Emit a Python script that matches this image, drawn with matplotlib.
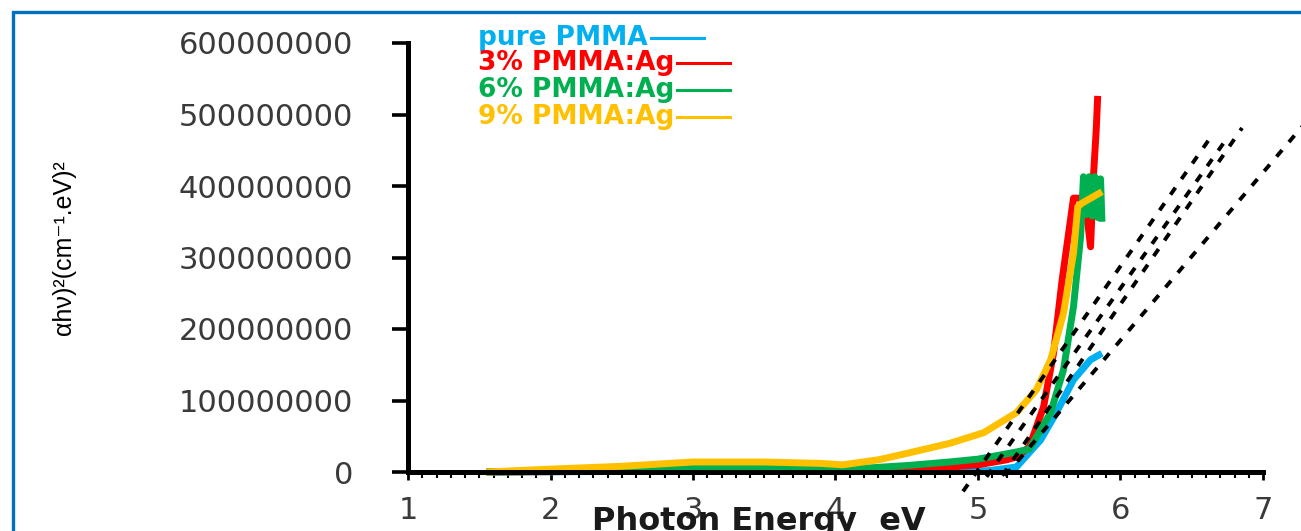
import matplotlib
matplotlib.use("Agg")
import matplotlib.pyplot as plt
import numpy as np
from matplotlib import font_manager as fm
from matplotlib.lines import Line2D
from matplotlib.patches import Rectangle

# ---------------- data ----------------
series_names = ["pure PMMA", "3% PMMA:Ag", "6% PMMA:Ag", "9% PMMA:Ag"]
series_colors = ["#00B0F0", "#FF0000", "#00B050", "#FFC000"]

pure_E = [1.55, 2.0, 2.5, 3.0, 3.5, 4.0, 4.5, 5.0, 5.08, 5.27, 5.44, 5.55, 5.67, 5.79, 5.87]
pure_Y = [0, 0.3e6, 0.8e6, 1.5e6, 1.5e6, 1.5e6, 1.5e6, 1.5e6, 2e6, 7e6, 45e6, 83e6, 129e6, 157e6, 166e6]

ag3_E = [1.55, 2.0, 2.5, 3.0, 3.5, 4.0, 4.5, 4.8, 5.0, 5.2, 5.27, 5.36, 5.46, 5.53, 5.59, 5.67, 5.75, 5.79, 5.81, 5.83, 5.84]
ag3_Y = [0, 0.5e6, 1e6, 3e6, 3e6, 3e6, 5e6, 7e6, 10e6, 17e6, 21e6, 35e6, 91e6, 166e6, 268e6, 383e6, 383e6, 315e6, 413e6, 480e6, 526e6]

ag6_E = [1.55, 2.0, 2.5, 3.0, 3.5, 4.0, 4.1, 4.5, 4.8, 5.0, 5.27, 5.36, 5.51, 5.60, 5.67, 5.72,
         5.74, 5.76, 5.78, 5.80, 5.82, 5.84, 5.86, 5.87]
ag6_Y = [0, 1e6, 3e6, 7e6, 7e6, 5e6, 4e6, 9e6, 14e6, 18e6, 28e6, 32e6, 83e6, 143e6, 231e6, 329e6,
         413e6, 360e6, 413e6, 358e6, 413e6, 356e6, 410e6, 350e6]

ag9_E = [1.55, 2.0, 2.5, 3.0, 3.5, 3.9, 4.05, 4.3, 4.5, 4.8, 5.04, 5.27, 5.41, 5.51, 5.60, 5.67, 5.70, 5.73, 5.87]
ag9_Y = [0, 4e6, 8e6, 14e6, 14e6, 12e6, 10e6, 17e6, 26e6, 40e6, 55e6, 83e6, 115e6, 157e6, 222e6, 306e6, 371e6, 376e6, 392e6]

# Tauc extrapolation lines: band gap (x-intercept), slope, drawn range
fit_Eg = [4.99, 5.084, 5.188, 5.214]
fit_slope = [285e6, 280.6e6, 289e6, 234.5e6]
fit_start = [4.895, 5.06, 5.17, 5.19]
fit_end = [6.63, 6.75, 6.853, 7.28]

x_ticks = [1, 2, 3, 4, 5, 6, 7]
x_tick_labels = ["1", "2", "3", "4", "5", "6", "7"]
y_ticks = [0, 100000000, 200000000, 300000000, 400000000, 500000000, 600000000]
y_tick_labels = ["0", "100000000", "200000000", "300000000", "400000000", "500000000", "600000000"]

x_label = "Photon Energy  eV"
y_label = "αhν)²(cm⁻¹.eV)²"

# ---------------- figure ----------------
W, H = 1301, 531
fig = plt.figure(figsize=(W / 100, H / 100), dpi=100)
fig.patch.set_facecolor("white")

avail = {f.name for f in fm.fontManager.ttflist}
narrow = "Liberation Sans Narrow" if "Liberation Sans Narrow" in avail else "Liberation Sans"

ax = fig.add_axes([408 / W, 59 / H, 855 / W, 429 / H])
ax.set_xlim(1, 7)
ax.set_ylim(0, 600000000)

all_E = [pure_E, ag3_E, ag6_E, ag9_E]
all_Y = [pure_Y, ag3_Y, ag6_Y, ag9_Y]
for E, Y, c, n in zip(all_E, all_Y, series_colors, series_names):
    ax.plot(E, Y, color=c, lw=5.0, solid_joinstyle="round", solid_capstyle="butt",
            label=n, zorder=2, clip_on=False)

for eg, s, x0, x1 in zip(fit_Eg, fit_slope, fit_start, fit_end):
    xs = np.array([x0, x1])
    ax.plot(xs, s * (xs - eg), color="black", lw=2.8, dashes=(2.2, 2.7),
            zorder=4, clip_on=False)

for side in ("top", "right"):
    ax.spines[side].set_visible(False)
for side in ("left", "bottom"):
    ax.spines[side].set_linewidth(3.6)
    ax.spines[side].set_color("black")
    ax.spines[side].set_zorder(3)

ax.set_yticks(y_ticks, y_tick_labels)
ax.set_xticks(x_ticks, x_tick_labels)
ax.set_xticks(np.arange(1, 7.001, 0.1), minor=True)
ax.tick_params(axis="y", direction="out", length=11.5, width=2.6, pad=28,
               labelsize=22, labelcolor="#3a3a3a", color="black")
ax.tick_params(axis="x", which="major", direction="out", length=6, width=2,
               pad=11, labelsize=22, labelcolor="#3a3a3a", color="black")
ax.tick_params(axis="x", which="minor", direction="out", length=4, width=1.5,
               color="black")
for lab in ax.get_xticklabels() + ax.get_yticklabels():
    lab.set_family("DejaVu Sans")

# axis titles
fig.text(759 / W, 1 - 506 / H, x_label, ha="center", va="top",
         fontsize=23, fontweight="bold", color="#1a1a1a", family="DejaVu Sans")
fig.text(64 / W, 1 - 248 / H, y_label, rotation=90, ha="center", va="center",
         fontsize=18, color="black", family=[narrow, "DejaVu Sans"])

# legend: coloured text followed by short line
leg_y = [38, 63, 90, 117]
fig.canvas.draw()
renderer = fig.canvas.get_renderer()
for n, c, yy in zip(series_names, series_colors, leg_y):
    t = fig.text(478 / W, 1 - yy / H, n, ha="left", va="center", fontsize=19,
                 fontweight="bold", color=c, family="DejaVu Sans")
    bb = t.get_window_extent(renderer)
    xs = (bb.x1 + 3) / W
    fig.add_artist(Line2D([xs, xs + 53 / W], [1 - yy / H, 1 - yy / H],
                          transform=fig.transFigure, color=c, lw=2.2))

# blue frame (right and bottom edges fall outside the image)
fig.add_artist(Rectangle((13 / W, -0.2), 1.2, 1.2 - 12 / H,
                         transform=fig.transFigure, fill=False,
                         edgecolor="#0070C0", lw=2.4, clip_on=False))

fig.savefig("out.png", dpi=100, facecolor="white")
